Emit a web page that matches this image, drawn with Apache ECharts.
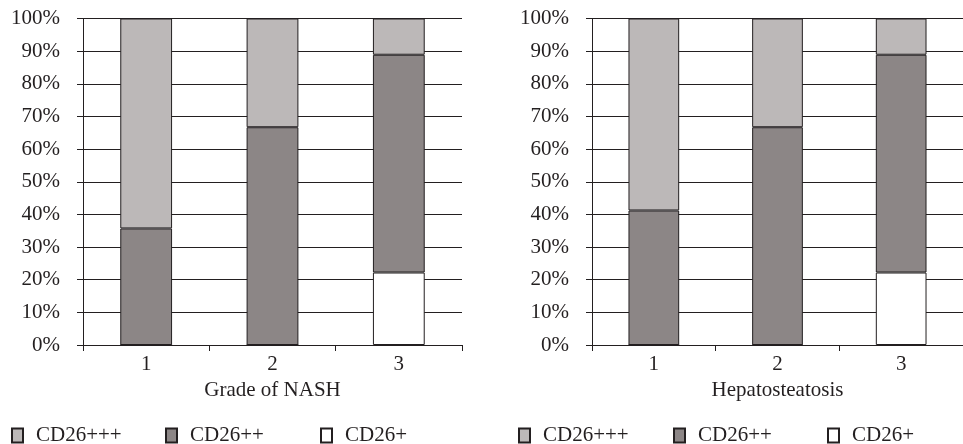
<!DOCTYPE html>
<html>
<head>
<meta charset="utf-8">
<script src="https://cdn.jsdelivr.net/npm/echarts@6/dist/echarts.min.js"></script>
<style>html,body{margin:0;padding:0;background:#fff}#c{width:963px;height:444px}</style>
</head>
<body>
<div id="c"></div>
<script>
const categories = ['1', '2', '3'];
const seriesNames = ['CD26+++', 'CD26++', 'CD26+'];
const nashPlus = [0, 0, 22.2];
const nashPlusPlus = [35.7, 66.7, 66.7];
const nashPlusPlusPlus = [64.3, 33.3, 11.1];
const steatPlus = [0, 0, 22.2];
const steatPlusPlus = [41.2, 66.7, 66.7];
const steatPlusPlusPlus = [58.8, 33.3, 11.1];
const yTicks = [0, 10, 20, 30, 40, 50, 60, 70, 80, 90, 100];
const xTitles = ['Grade of NASH', 'Hepatosteatosis'];

const ink = '#231f20';
const colors = {'CD26+++': '#bcb8b8', 'CD26++': '#8c8686', 'CD26+': '#ffffff'};
const font = '"Liberation Serif", "Times New Roman", serif';

function xAxis(idx) {
  return {
    type: 'category', gridIndex: idx, data: categories,
    name: xTitles[idx], nameLocation: 'middle', nameGap: 31,
    nameTextStyle: {fontFamily: font, fontSize: 21, color: ink},
    axisLine: {show: true, lineStyle: {color: ink, width: 1}},
    axisTick: {show: true, length: 6, lineStyle: {color: ink}},
    axisLabel: {fontFamily: font, fontSize: 21, color: ink, margin: 9},
    splitLine: {show: false}
  };
}
function yAxis(idx) {
  return {
    type: 'value', gridIndex: idx, min: yTicks[0], max: yTicks[yTicks.length - 1], interval: yTicks[1] - yTicks[0],
    axisLine: {show: true, lineStyle: {color: ink, width: 1}},
    axisTick: {show: true, length: 6, lineStyle: {color: ink}},
    axisLabel: {fontFamily: font, fontSize: 21, color: ink, margin: 23, formatter: '{value}%'},
    splitLine: {show: true, lineStyle: {color: ink, width: 1}}
  };
}
function bar(name, data, idx) {
  return {
    type: 'bar', name: name, stack: 's' + idx, xAxisIndex: idx, yAxisIndex: idx,
    data: data, barWidth: '41%',
    itemStyle: {color: colors[name], borderColor: ink, borderWidth: 1},
    emphasis: {disabled: true}, animation: false
  };
}
function legend(name, left) {
  return {
    data: [name], left: left, top: 425, padding: 0, itemWidth: 11, itemHeight: 14, itemGap: 0,
    icon: 'rect',
    textStyle: {fontFamily: font, fontSize: 21, color: ink, padding: [0, 0, 0, 8]},
    selectedMode: false
  };
}

const chart = echarts.init(document.getElementById('c'));
chart.setOption({
  backgroundColor: '#fff',
  animation: false,
  grid: [
    {left: 83, top: 18.5, width: 379, height: 326.5},
    {left: 592, top: 18.5, width: 378, height: 326.5}
  ],
  xAxis: [xAxis(0), xAxis(1)],
  yAxis: [yAxis(0), yAxis(1)],
  legend: [
    legend(seriesNames[0], 11), legend(seriesNames[1], 165), legend(seriesNames[2], 320),
    legend(seriesNames[0], 518), legend(seriesNames[1], 673), legend(seriesNames[2], 827)
  ],
  series: [
    bar('CD26+', nashPlus, 0), bar('CD26++', nashPlusPlus, 0), bar('CD26+++', nashPlusPlusPlus, 0),
    bar('CD26+', steatPlus, 1), bar('CD26++', steatPlusPlus, 1), bar('CD26+++', steatPlusPlusPlus, 1)
  ]
});
</script>
</body>
</html>
